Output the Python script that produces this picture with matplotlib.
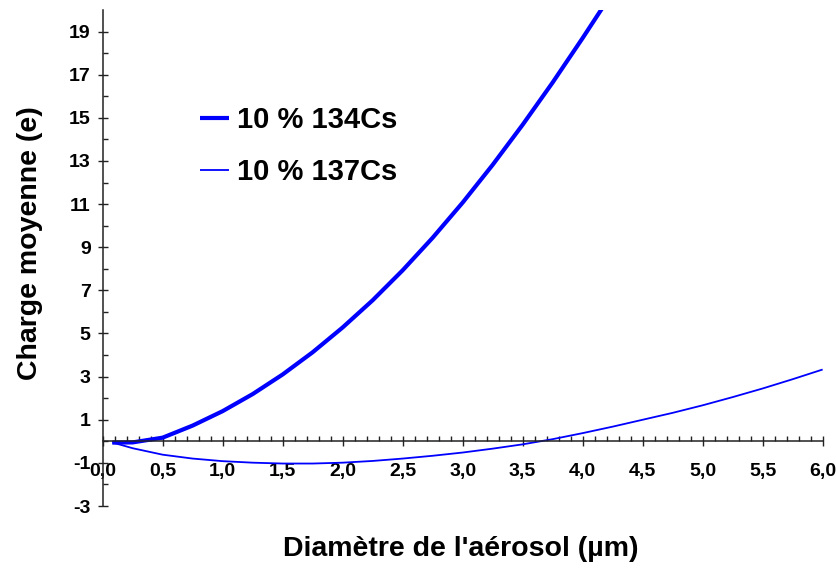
import matplotlib
matplotlib.use("Agg")
import matplotlib.pyplot as plt
from matplotlib.ticker import FixedLocator, MultipleLocator, FuncFormatter

plt.rcParams['font.family'] = ['Liberation Sans', 'DejaVu Sans']
plt.rcParams['font.weight'] = 'bold'

# Mean aerosol charge vs. particle diameter
diam_134 = [0.08, 0.25, 0.5, 0.75, 1.0, 1.25, 1.5, 1.75, 2.0, 2.25, 2.5,
            2.75, 3.0, 3.25, 3.5, 3.75, 4.0, 4.2]
charge_134 = [-0.06, -0.05, 0.17, 0.73, 1.40, 2.19, 3.10, 4.13, 5.28, 6.54,
              7.93, 9.44, 11.07, 12.82, 14.68, 16.64, 18.7, 20.4]

diam_137 = [0.08, 0.25, 0.5, 0.75, 1.0, 1.25, 1.5, 1.75, 2.0, 2.25, 2.5,
            2.75, 3.0, 3.25, 3.5, 3.75, 4.0, 4.25, 4.5, 4.75, 5.0, 5.25,
            5.5, 5.75, 6.0]
charge_137 = [-0.05, -0.32, -0.62, -0.8, -0.92, -0.99, -1.03, -1.03, -0.99,
              -0.91, -0.8, -0.67, -0.52, -0.34, -0.14, 0.1, 0.38, 0.68, 1.0,
              1.32, 1.67, 2.05, 2.45, 2.88, 3.33]

label_134 = "10 % 134Cs"
label_137 = "10 % 137Cs"

x_major = [0.0, 0.5, 1.0, 1.5, 2.0, 2.5, 3.0, 3.5, 4.0, 4.5, 5.0, 5.5, 6.0]
y_major = [-3, -1, 1, 3, 5, 7, 9, 11, 13, 15, 17, 19]
y_minor = [-2, 0, 2, 4, 6, 8, 10, 12, 14, 16, 18]

fig = plt.figure(figsize=(8.36, 5.73), dpi=100)
ax = fig.add_axes([0.1228, 0.1169, 0.8612, 0.8656])

ax.plot(diam_134, charge_134, color='#0000FF', lw=3.0, label=label_134,
        solid_joinstyle='round', solid_capstyle='butt')
ax.plot(diam_137, charge_137, color='#0000FF', lw=1.3, label=label_137,
        solid_joinstyle='round', solid_capstyle='butt')

ax.set_xlim(0, 6)
ax.set_ylim(-3, 20)

ax.spines['top'].set_visible(False)
ax.spines['right'].set_visible(False)
ax.spines['bottom'].set_position(('data', 0))
for s in ('left', 'bottom'):
    ax.spines[s].set_linewidth(1.1)
    ax.spines[s].set_color('#222222')

ax.xaxis.set_major_locator(FixedLocator(x_major))
ax.xaxis.set_minor_locator(MultipleLocator(0.1))
ax.yaxis.set_major_locator(FixedLocator(y_major))
ax.yaxis.set_minor_locator(FixedLocator(y_minor))
ax.xaxis.set_major_formatter(FuncFormatter(lambda v, p: f"{v:.1f}".replace('.', ',')))
ax.yaxis.set_major_formatter(FuncFormatter(lambda v, p: f"{int(round(v))}"))

ax.tick_params(axis='x', which='major', direction='inout', length=7.2,
               width=1.0, labelsize=14, pad=12, color='#222222')
ax.tick_params(axis='x', which='minor', direction='in', length=3.6,
               width=1.0, color='#222222')
ax.tick_params(axis='y', which='major', direction='inout', length=7.2,
               width=1.0, labelsize=14, pad=5, color='#222222')
ax.tick_params(axis='y', which='minor', direction='in', length=3.6,
               width=1.0, color='#222222')
for lbl in ax.get_xticklabels() + ax.get_yticklabels():
    lbl.set_fontweight('bold')

ax.set_xlabel("Diamètre de l'aérosol (µm)", fontsize=20.5, fontweight='bold')
ax.set_ylabel("Charge moyenne (e)", fontsize=20.5, fontweight='bold')
ax.xaxis.set_label_coords(0.497, -0.06)
ax.yaxis.set_label_coords(-0.083, 0.53)

leg = ax.legend(loc='upper left', bbox_to_anchor=(0.1192, 0.83), frameon=False,
                fontsize=21, handlelength=0.98, handletextpad=0.3,
                labelspacing=0.82, borderaxespad=0)
for t in leg.get_texts():
    t.set_fontweight('bold')
for h in leg.get_lines():
    h.set_solid_capstyle('butt')

fig.savefig("out.png", dpi=100)
